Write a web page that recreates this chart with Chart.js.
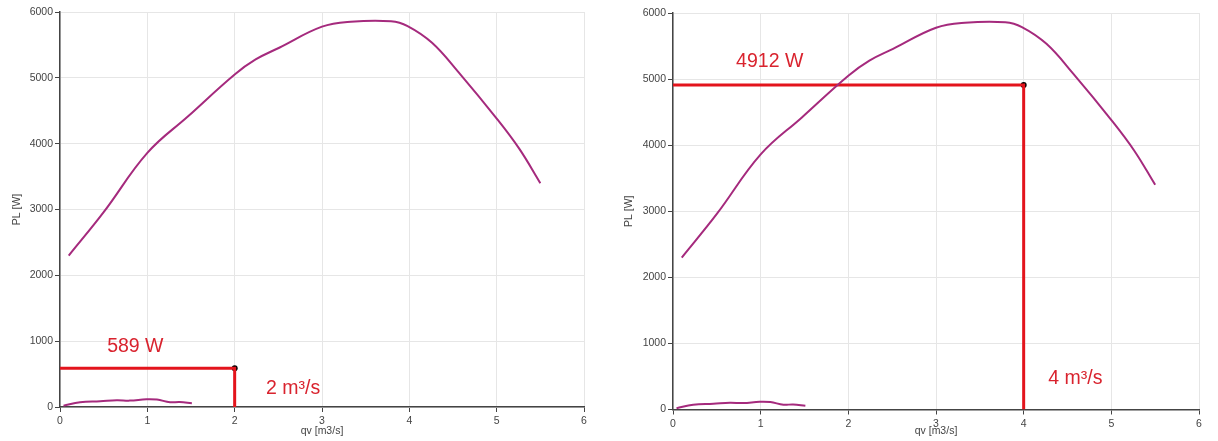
<!DOCTYPE html>
<html>
<head>
<meta charset="utf-8">
<script src="https://cdn.jsdelivr.net/npm/chart.js@4/dist/chart.umd.min.js"></script>
<style>
	html, body { margin: 0; padding: 0; background: #fff; }
	.box { position: absolute; top: 0; height: 441px; }
</style>
</head>
<body>
<div class="box" style="left:0px;width:600px;"><canvas id="left"></canvas></div>
<div class="box" style="left:610px;width:608px;"><canvas id="right"></canvas></div>
<script>
/*--------------------------------------------------------------------------------------------------------------------*/
/* DATA                                                                                                               */
/*--------------------------------------------------------------------------------------------------------------------*/

const qvMain = [0.1, 0.5, 1.0, 1.47, 2.0, 2.24, 2.51, 3.0, 3.33, 3.79, 3.98, 4.26, 4.56, 5.01, 5.26, 5.5];
const plMain = [2300, 2960, 3860, 4420, 5051, 5279, 5457, 5777, 5853, 5860, 5787, 5533, 5090, 4365, 3920, 3400];

const qvLow = [0.04, 0.23, 0.46, 0.65, 0.8, 0.99, 1.11, 1.26, 1.37, 1.51];
const plLow = [20, 72, 87, 103, 97, 118, 113, 72, 77, 56];

const xTicks = [0, 1, 2, 3, 4, 5, 6];
const yTicks = [0, 1000, 2000, 3000, 4000, 5000, 6000];

const opQv = [2, 4];          /* operating point, left & right */
const opPl = [589, 4912];

/* label anchors (data coords) for "... W" and "... m³/s" texts */
const wLabelAt = [[0.54, 832], [0.72, 5188]];
const qLabelAt = [[2.36, 205], [4.28, 386]];

/*--------------------------------------------------------------------------------------------------------------------*/

const FONT = '"Liberation Sans", Arial, sans-serif';
const RED = '#e3141c';
const TXT_RED = '#d9232e';
const CURVE = '#a52a7d';

const textPlugin = {
	id: 'opText',
	afterDatasetsDraw(chart, args, opts)
	{
		const ctx = chart.ctx;
		const x = chart.scales.x, y = chart.scales.y;
		ctx.save();
		ctx.fillStyle = TXT_RED;
		ctx.font = '19.5px ' + FONT;
		ctx.textAlign = 'left';
		ctx.textBaseline = 'alphabetic';
		opts.items.forEach((it) => {
			ctx.fillText(it.text, x.getPixelForValue(it.at[0]), y.getPixelForValue(it.at[1]));
		});
		ctx.restore();
	}
};

function build(id, i, geo)
{
	const pts = (xs, ys) => xs.map((v, k) => ({x: v, y: ys[k]}));

	return new Chart(document.getElementById(id), {
		type: 'line',
		data: {
			datasets: [
				{
					data: pts(qvMain, plMain),
					borderColor: CURVE, borderWidth: 2, pointRadius: 0, tension: 0.4,
				},
				{
					data: pts(qvLow, plLow),
					borderColor: CURVE, borderWidth: 2, pointRadius: 0, tension: 0.4,
				},
				{
					data: pts([0, opQv[i], opQv[i]], [opPl[i], opPl[i], 0]),
					borderColor: RED, borderWidth: 3, pointRadius: 0, tension: 0,
				},
				{
					data: pts([opQv[i]], [opPl[i]]),
					showLine: false, pointRadius: 3, pointBorderWidth: 0,
					pointBackgroundColor: '#000',
				},
			],
		},
		options: {
			responsive: true,
			maintainAspectRatio: false,
			animation: false,
			events: [],
			layout: {padding: {top: geo.top, right: geo.right, left: 0, bottom: 0}},
			plugins: {
				legend: {display: false},
				tooltip: {enabled: false},
				opText: {
					items: [
						{text: opPl[i] + ' W', at: wLabelAt[i]},
						{text: opQv[i] + ' m³/s', at: qLabelAt[i]},
					],
				},
			},
			scales: {
				x: {
					type: 'linear', min: 0, max: 6,
					afterFit: (s) => { s.height = geo.xh; },
					afterBuildTicks: (s) => { s.ticks = xTicks.map((v) => ({value: v})); },
					grid: {color: '#e6e6e6', tickColor: '#444', tickLength: 5},
					border: {color: '#444', width: 1.5},
					ticks: {color: '#444', padding: 3, font: {family: FONT, size: 10.5}, maxRotation: 0,
						callback: (v) => String(v)},
					title: {display: true, text: 'qv [m3/s]', color: '#444',
						font: {family: FONT, size: 10.5}, padding: {top: 0, bottom: geo.xtp}},
				},
				y: {
					type: 'linear', min: 0, max: 6000,
					afterFit: (s) => { s.width = geo.yw; },
					afterBuildTicks: (s) => { s.ticks = yTicks.map((v) => ({value: v})); },
					grid: {color: '#e6e6e6', tickColor: '#444', tickLength: 5},
					border: {color: '#444', width: 1.5},
					ticks: {color: '#444', padding: 2, font: {family: FONT, size: 10.5},
						callback: (v) => String(v)},
					title: {display: true, text: 'PL [W]', color: '#444',
						font: {family: FONT, size: 10.5}, padding: {top: geo.ytp, bottom: 0}},
				},
			},
		},
		plugins: [textPlugin],
	});
}

/*--------------------------------------------------------------------------------------------------------------------*/

build('left', 0, {top: 12, right: 16, xh: 34, yw: 60, xtp: 4, ytp: 10.5});
build('right', 1, {top: 13, right: 19, xh: 31.5, yw: 63, xtp: 3.5, ytp: 13});

/*--------------------------------------------------------------------------------------------------------------------*/
</script>
</body>
</html>
